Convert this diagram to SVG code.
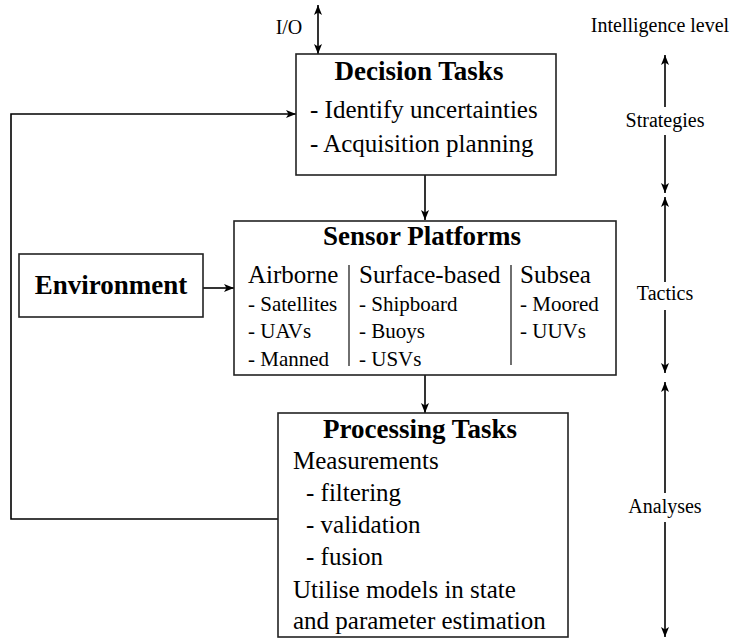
<svg xmlns="http://www.w3.org/2000/svg" width="733" height="642" viewBox="0 0 733 642">
  <style>
    .box { fill: #fff; stroke: #222; stroke-width: 1.6; }
    .wire { fill: none; stroke: #000; stroke-width: 1.6; }
    .div { stroke: #333; stroke-width: 1.4; }
    text { font-family: "Liberation Serif", "Times New Roman", serif; fill: #000; }
    .title { font-size: 27px; font-weight: bold; text-anchor: middle; }
    .body { font-size: 25px; }
    .item { font-size: 21px; }
    .small { font-size: 20px; }
    .mid { text-anchor: middle; }
  </style>
  <defs>
    <marker id="arrow" viewBox="0 0 10 8" refX="10" refY="4" markerWidth="10" markerHeight="8" markerUnits="userSpaceOnUse" orient="auto-start-reverse">
      <path d="M0,0 L10,4 L0,8 L2.5,4 z" fill="#000"/>
    </marker>
  </defs>

  <!-- connectors -->
  <g id="connectors">
    <line class="wire" x1="318" y1="5" x2="318" y2="54" marker-start="url(#arrow)" marker-end="url(#arrow)"/>
    <line class="wire" x1="425" y1="175" x2="425" y2="220" marker-end="url(#arrow)"/>
    <line class="wire" x1="203" y1="288" x2="234" y2="288" marker-end="url(#arrow)"/>
    <line class="wire" x1="425" y1="375" x2="425" y2="413" marker-end="url(#arrow)"/>
    <polyline class="wire" points="278,519 11,519 11,114 296,114" marker-end="url(#arrow)"/>
  </g>

  <!-- intelligence level scale -->
  <g id="scale">
    <text class="small mid" x="660" y="32">Intelligence level</text>
    <line class="wire" x1="665" y1="55" x2="665" y2="107" marker-start="url(#arrow)"/>
    <text class="small mid" x="665" y="127">Strategies</text>
    <line class="wire" x1="665" y1="135" x2="665" y2="193" marker-end="url(#arrow)"/>
    <line class="wire" x1="665" y1="197" x2="665" y2="282" marker-start="url(#arrow)"/>
    <text class="small mid" x="665" y="300">Tactics</text>
    <line class="wire" x1="665" y1="310" x2="665" y2="373" marker-end="url(#arrow)"/>
    <line class="wire" x1="665" y1="382" x2="665" y2="493" marker-start="url(#arrow)"/>
    <text class="small mid" x="665" y="513">Analyses</text>
    <line class="wire" x1="665" y1="522" x2="665" y2="637" marker-end="url(#arrow)"/>
  </g>

  <g id="io">
    <text class="small mid" x="289" y="34">I/O</text>
  </g>

  <g id="decision">
    <rect class="box" x="296" y="54" width="260" height="121"/>
    <text class="title" x="419" y="80">Decision Tasks</text>
    <text class="body" x="310" y="118">- Identify uncertainties</text>
    <text class="body" x="310" y="152">- Acquisition planning</text>
  </g>

  <g id="environment">
    <rect class="box" x="19" y="254" width="184" height="63"/>
    <text class="title" x="111" y="294">Environment</text>
  </g>

  <g id="sensors">
    <rect class="box" x="234" y="221" width="382" height="154"/>
    <text class="title" x="422" y="245">Sensor Platforms</text>
    <line class="div" x1="349" y1="265" x2="349" y2="366"/>
    <line class="div" x1="511" y1="265" x2="511" y2="365"/>
    <text class="body" x="248" y="283">Airborne</text>
    <text class="item" x="248" y="311">- Satellites</text>
    <text class="item" x="248" y="338">- UAVs</text>
    <text class="item" x="248" y="366">- Manned</text>
    <text class="body" x="359" y="283">Surface-based</text>
    <text class="item" x="359" y="311">- Shipboard</text>
    <text class="item" x="359" y="338">- Buoys</text>
    <text class="item" x="359" y="366">- USVs</text>
    <text class="body" x="520" y="283">Subsea</text>
    <text class="item" x="520" y="311">- Moored</text>
    <text class="item" x="520" y="338">- UUVs</text>
  </g>

  <g id="processing">
    <rect class="box" x="278" y="413" width="290" height="224"/>
    <text class="title" x="420" y="438">Processing Tasks</text>
    <text class="body" x="293" y="469">Measurements</text>
    <text class="body" x="306" y="501">- filtering</text>
    <text class="body" x="306" y="533">- validation</text>
    <text class="body" x="306" y="565">- fusion</text>
    <text class="body" x="293" y="598">Utilise models in state</text>
    <text class="body" x="293" y="629">and parameter estimation</text>
  </g>
</svg>
